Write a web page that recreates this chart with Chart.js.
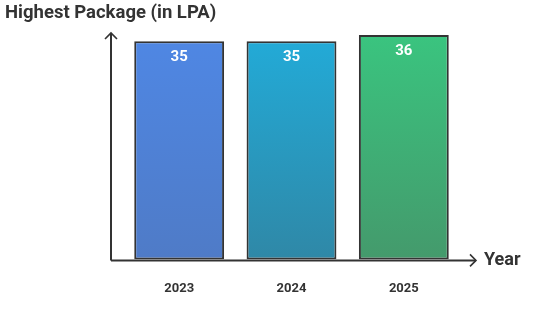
<!DOCTYPE html>
<html>
<head>
<meta charset="utf-8">
<script src="https://cdn.jsdelivr.net/npm/chart.js@4.4.1/dist/chart.umd.min.js"></script>
<style>
  html, body { margin: 0; padding: 0; background: #fff; }
  #wrap { width: 546px; height: 336px; }
</style>
</head>
<body>
<div id="wrap"><canvas id="mycanvas"></canvas></div>
<script>
// chart data
var years = ['2023', '2024', '2025'];
var highestPackage = [35, 35, 36];
var topColors = ['#4f87e4', '#22abd8', '#3ac47f'];
var bottomColors = ['#4f7bc7', '#2f88a7', '#449a6c'];

var ink = '#333333';

// axis arrows, axis name and the value labels on the bars
var decorations = {
    id: 'decorations',
    afterDatasetsDraw: function(chart) {
        var ctx = chart.ctx;
        var area = chart.chartArea;
        var x0 = area.left - 12;
        var y0 = area.bottom + 1;
        ctx.save();
        ctx.strokeStyle = ink;
        ctx.lineWidth = 2;
        // y axis
        ctx.beginPath();
        ctx.moveTo(x0, y0);
        ctx.lineTo(x0, area.top - 2);
        ctx.stroke();
        ctx.lineWidth = 1.6;
        ctx.beginPath();
        ctx.moveTo(x0 - 6, area.top + 4);
        ctx.lineTo(x0, area.top - 2);
        ctx.lineTo(x0 + 6, area.top + 4);
        ctx.stroke();
        // x axis
        ctx.lineWidth = 2;
        ctx.beginPath();
        ctx.moveTo(x0, y0);
        ctx.lineTo(area.right + 16, y0);
        ctx.stroke();
        ctx.lineWidth = 1.6;
        ctx.beginPath();
        ctx.moveTo(area.right + 10, y0 - 6);
        ctx.lineTo(area.right + 16, y0);
        ctx.lineTo(area.right + 10, y0 + 6);
        ctx.stroke();

        ctx.fillStyle = ink;
        ctx.font = 'bold 18px Roboto';
        ctx.textAlign = 'left';
        ctx.textBaseline = 'middle';
        ctx.fillText('Year', area.right + 24, y0);

        // value labels
        ctx.fillStyle = '#ffffff';
        ctx.font = 'bold 15px Roboto';
        ctx.textAlign = 'center';
        var meta = chart.getDatasetMeta(0);
        meta.data.forEach(function(bar, i) {
            ctx.fillText(String(highestPackage[i]), bar.x, bar.y + 16);
        });
        ctx.restore();
    }
};

var ctx_live = document.getElementById('mycanvas');

var myChart = new Chart(ctx_live, {
    type: 'bar',
    data: {
        labels: years,
        datasets: [{
            label: 'Highest Package (in LPA)',
            data: highestPackage,
            backgroundColor: function(context) {
                var chart = context.chart;
                var area = chart.chartArea;
                if (!area) return topColors[context.dataIndex];
                var g = chart.ctx.createLinearGradient(0, area.top, 0, area.bottom);
                g.addColorStop(0, topColors[context.dataIndex]);
                g.addColorStop(1, bottomColors[context.dataIndex]);
                return g;
            },
            borderColor: ink,
            borderWidth: 2,
            borderSkipped: false,
            barPercentage: 0.8,
            categoryPercentage: 1.0
        }]
    },
    options: {
        responsive: true,
        maintainAspectRatio: false,
        animation: false,
        layout: {
            padding: { left: 5, right: 86, top: 0, bottom: 17 }
        },
        plugins: {
            legend: { display: false },
            tooltip: { enabled: false },
            title: {
                display: true,
                text: 'Highest Package (in LPA)',
                align: 'start',
                color: ink,
                font: { family: 'Roboto', size: 18.5, weight: 'bold' },
                padding: { top: 2.5, bottom: 10.3 }
            }
        },
        scales: {
            x: {
                grid: { display: false, drawTicks: false },
                border: { display: false },
                ticks: {
                    color: ink,
                    font: { family: 'Roboto', size: 13, weight: 'bold' },
                    padding: 22
                }
            },
            y: {
                min: 0,
                max: 36,
                grid: { display: false },
                border: { display: false },
                ticks: { display: false },
                afterFit: function(scale) { scale.width = 118; }
            }
        }
    },
    plugins: [decorations]
});

myChart.update();
</script>
</body>
</html>
